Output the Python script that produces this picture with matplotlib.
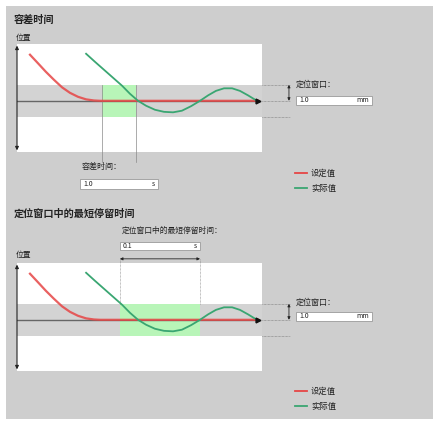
import matplotlib.pyplot as plt
from matplotlib.patches import Rectangle

plt.rcParams['font.family'] = ['Noto Sans CJK SC', 'DejaVu Sans']

# Кривые (время в условных единицах, позиция в мм относительно цели)
setpoint_x = [0.53, 0.86, 1.18, 1.51, 1.84, 2.16, 2.49, 2.82, 3.14, 3.39, 9.84]
setpoint_y = [2.88, 2.34, 1.81, 1.31, 0.84, 0.50, 0.25, 0.09, 0.02, 0.0, 0.0]
actual_x = [2.82, 3.18, 3.55, 3.92, 4.29, 4.61, 4.94, 5.27, 5.63, 6.00, 6.37,
            6.73, 7.10, 7.47, 7.80, 8.12, 8.45, 8.78, 9.10, 9.43, 9.76]
actual_y = [2.94, 2.44, 1.94, 1.44, 0.94, 0.44, 0.0, -0.31, -0.56, -0.69, -0.72,
            -0.62, -0.34, 0.0, 0.34, 0.62, 0.78, 0.78, 0.62, 0.34, 0.03]
axis_end = 9.84
window = 1.0
tolerance_span = [3.47, 4.86]
dwell_span = [4.2, 7.47]

titles = ['容差时间', '定位窗口中的最短停留时间']
pos_label = '位置'
window_label = '定位窗口：'
window_value = '1.0'
tolerance_label = '容差时间：'
tolerance_value = '1.0'
dwell_label = '定位窗口中的最短停留时间：'
dwell_value = '0.1'
legend_labels = ['设定值', '实际值']

RED = '#e64545'
GREEN = '#3aa672'
HIGHLIGHT = '#b8f5b8'
BAND = '#d3d3d3'
BG = '#cecece'
TXT = '#222222'

W, H = 439, 424
fig = plt.figure(figsize=(W / 100, H / 100), dpi=100)
fig.patch.set_facecolor('white')

# Фоновая ось в пикселях
base = fig.add_axes([0, 0, 1, 1])
base.set_xlim(0, W)
base.set_ylim(H, 0)
base.axis('off')
base.add_patch(Rectangle((6, 6), 427, 413, color=BG, lw=0))


def px_axes(x0, y0, x1, y1):
    return fig.add_axes([x0 / W, 1 - y1 / H, (x1 - x0) / W, (y1 - y0) / H])


def input_box(x0, y0, x1, y1, value, unit):
    base.add_patch(Rectangle((x0, y0), x1 - x0, y1 - y0, facecolor='white',
                             edgecolor='#9a9a9a', lw=0.6))
    base.text(x0 + 3, (y0 + y1) / 2, value, fontsize=5, color=TXT, va='center')
    base.text(x1 - 3, (y0 + y1) / 2, unit, fontsize=5, color=TXT, va='center', ha='right')


def draw_panel(top, span, dim_arrow):
    # top - верхний край белой области в пикселях
    ax = px_axes(17, top, 262, top + 108)
    ax.set_xlim(0, 10)
    ax.set_ylim(-3.2, 3.55)
    ax.set_facecolor('white')
    ax.set_xticks([])
    ax.set_yticks([])
    for sp in ax.spines.values():
        sp.set_visible(False)

    ax.axhspan(-window, window, color=BAND, lw=0, zorder=0)
    ax.axvspan(span[0], span[1], ymin=(3.2 - window) / 6.75, ymax=(3.2 + window) / 6.75,
               color=HIGHLIGHT, lw=0, zorder=1)

    # вертикальная ось
    ax.annotate('', xy=(0, 3.45), xytext=(0, -3.1),
                arrowprops=dict(arrowstyle='<|-|>', color='#222222', lw=0.8,
                                mutation_scale=5, shrinkA=0, shrinkB=0))
    # горизонтальная ось
    ax.plot([0, axis_end], [0, 0], color='#666666', lw=1.0, zorder=2)

    ax.plot(setpoint_x, setpoint_y, color=RED, lw=1.6, alpha=0.85, zorder=3)
    ax.plot(actual_x, actual_y, color=GREEN, lw=1.3, zorder=4)
    ax.plot([axis_end], [0], marker='>', color='#111111', ms=3.5, zorder=5)

    # пунктиры и размер окна справа
    for yv in (window, 0, -window):
        ax.plot([10, 11.15], [yv, yv], color='#777777', lw=0.5, ls=(0, (1, 1)),
                clip_on=False)
    ax.annotate('', xy=(11.1, window), xytext=(11.1, 0), annotation_clip=False,
                arrowprops=dict(arrowstyle='<|-|>', color='#222222', lw=0.6,
                                mutation_scale=4, shrinkA=0, shrinkB=0))

    if dim_arrow:
        for xv in span:
            ax.plot([xv, xv], [3.81, window], color='#888888', lw=0.5,
                    ls=(0, (1, 1)), clip_on=False)
        ax.annotate('', xy=(span[0], 3.81), xytext=(span[1], 3.81), annotation_clip=False,
                    arrowprops=dict(arrowstyle='<|-|>', color='#222222', lw=0.6,
                                    mutation_scale=4, shrinkA=0, shrinkB=0))
    else:
        for xv in span:
            ax.plot([xv, xv], [window, -3.81], color='#8a8a8a', lw=0.5, clip_on=False)
    return ax


# Верхняя панель
base.text(14, 20, titles[0], fontsize=7.3, fontweight='bold', color=TXT, va='center')
base.text(16, 38, pos_label, fontsize=5.6, color=TXT, va='center')
draw_panel(44, tolerance_span, False)
base.text(296, 84, window_label, fontsize=5.8, color=TXT, va='center')
input_box(296, 96, 372, 105, window_value, 'mm')
base.text(82, 167, tolerance_label, fontsize=5.8, color=TXT, va='center')
input_box(80, 179, 158, 189, tolerance_value, 's')

# Нижняя панель
base.text(14, 214, titles[1], fontsize=7.3, fontweight='bold', color=TXT, va='center')
base.text(122, 231, dwell_label, fontsize=5.6, color=TXT, va='center')
input_box(120, 242, 200, 250, dwell_value, 's')
base.text(16, 255, pos_label, fontsize=5.6, color=TXT, va='center')
draw_panel(263, dwell_span, True)
base.text(296, 302, window_label, fontsize=5.8, color=TXT, va='center')
input_box(296, 312, 372, 321, window_value, 'mm')

# Легенды
for ly in (173, 391):
    for k, (c, lab) in enumerate(zip([RED, GREEN], legend_labels)):
        yy = ly + 15 * k
        base.plot([295, 307], [yy, yy], color=c, lw=1.3)
        base.text(311, yy, lab, fontsize=6, color=TXT, va='center')

fig.savefig('out.png', dpi=100, facecolor=fig.get_facecolor())
